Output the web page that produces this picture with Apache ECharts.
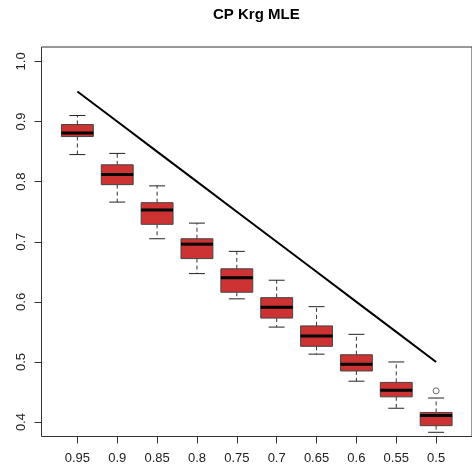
<!DOCTYPE html>
<html>
<head>
<meta charset="utf-8">
<script src="https://cdn.jsdelivr.net/npm/echarts@6/dist/echarts.min.js"></script>
<style>
  html, body { margin: 0; padding: 0; background: #fff; }
  #chart { width: 472px; height: 469px; }
</style>
</head>
<body>
<div id="chart"></div>
<script>
// Nominal coverage levels along the x axis
const categories = ['0.95', '0.9', '0.85', '0.8', '0.75', '0.7', '0.65', '0.6', '0.55', '0.5'];
const nominal = [0.95, 0.9, 0.85, 0.8, 0.75, 0.7, 0.65, 0.6, 0.55, 0.5];

// Five-number summaries of the observed coverage for each level
const lowerWhisker = [0.845, 0.766, 0.705, 0.647, 0.605, 0.558, 0.513, 0.468, 0.423, 0.383];
const q1           = [0.875, 0.795, 0.729, 0.672, 0.616, 0.573, 0.526, 0.485, 0.442, 0.394];
const medians      = [0.881, 0.812, 0.753, 0.696, 0.640, 0.591, 0.543, 0.496, 0.453, 0.411];
const q3           = [0.895, 0.828, 0.765, 0.705, 0.655, 0.607, 0.560, 0.512, 0.466, 0.416];
const upperWhisker = [0.910, 0.847, 0.793, 0.731, 0.684, 0.636, 0.592, 0.546, 0.500, 0.440];

// Points beyond the whiskers: [position, value]
const outliers = [[10, 0.452]];

// Y axis ticks
const yTicks = [0.4, 0.5, 0.6, 0.7, 0.8, 0.9, 1.0];

const positions = categories.map((_, i) => i + 1);
const boxData = positions.map((p, i) => [p, lowerWhisker[i], q1[i], medians[i], q3[i], upperWhisker[i]]);
const diagonal = positions.map((p, i) => [p, nominal[i]]);

const chart = echarts.init(document.getElementById('chart'), null, { renderer: 'canvas' });

const FONT = 'Liberation Sans, Arial, sans-serif';

function renderBox(params, api) {
  const x = api.value(0);
  const lo = api.coord([x, api.value(1)]);
  const b1 = api.coord([x, api.value(2)]);
  const md = api.coord([x, api.value(3)]);
  const b3 = api.coord([x, api.value(4)]);
  const hi = api.coord([x, api.value(5)]);
  const w = api.size([0.8, 0])[0];
  const cx = lo[0];
  const half = w / 2;
  const cap = w / 4;
  const dash = { stroke: '#333', lineWidth: 1, lineDash: [4, 3] };
  const solid = { stroke: '#222', lineWidth: 1 };
  return {
    type: 'group',
    children: [
      { type: 'line', shape: { x1: cx, y1: b3[1], x2: cx, y2: hi[1] }, style: dash },
      { type: 'line', shape: { x1: cx, y1: b1[1], x2: cx, y2: lo[1] }, style: dash },
      { type: 'line', shape: { x1: cx - cap, y1: hi[1], x2: cx + cap, y2: hi[1] }, style: solid },
      { type: 'line', shape: { x1: cx - cap, y1: lo[1], x2: cx + cap, y2: lo[1] }, style: solid },
      { type: 'rect', shape: { x: cx - half, y: b3[1], width: w, height: b1[1] - b3[1] },
        style: { fill: '#CD3333', stroke: '#444', lineWidth: 1 } },
      { type: 'line', shape: { x1: cx - half, y1: md[1], x2: cx + half, y2: md[1] },
        style: { stroke: '#000', lineWidth: 3 } }
    ]
  };
}

chart.setOption({
  animation: false,
  backgroundColor: '#fff',
  graphic: [{
    type: 'text',
    left: 213, top: 7,
    style: { text: 'CP Krg MLE', font: 'bold 15px ' + FONT, fill: '#000' }
  }],
  grid: {
    left: 41.5, top: 47, width: 434.5, height: 389.5,
    show: true, borderColor: '#333', borderWidth: 1, backgroundColor: 'transparent'
  },
  xAxis: {
    type: 'value', min: 0.1, max: 10.9,
    axisLine: { show: false },
    splitLine: { show: false },
    axisTick: { show: true, customValues: positions, length: 7, lineStyle: { color: '#333' } },
    axisLabel: {
      customValues: positions, margin: 15, color: '#222', fontSize: 13, fontFamily: FONT,
      formatter: v => categories[Math.round(v) - 1]
    }
  },
  yAxis: {
    type: 'value', min: 0.376, max: 1.024,
    axisLine: { show: false },
    splitLine: { show: false },
    axisTick: { show: true, customValues: yTicks, length: 7, lineStyle: { color: '#333' } },
    axisLabel: {
      customValues: yTicks, rotate: 90, margin: 14, color: '#222', fontSize: 13, fontFamily: FONT,
      formatter: v => v.toFixed(1)
    }
  },
  series: [
    {
      type: 'custom',
      renderItem: renderBox,
      encode: { x: 0, y: [1, 2, 3, 4, 5] },
      data: boxData,
      z: 3
    },
    {
      type: 'scatter',
      data: outliers,
      symbol: 'circle',
      symbolSize: 6,
      itemStyle: { color: '#fff', borderColor: '#444', borderWidth: 1 },
      z: 4
    },
    {
      type: 'line',
      data: diagonal,
      showSymbol: false,
      symbol: 'none',
      lineStyle: { color: '#000', width: 2 },
      z: 2
    }
  ]
});
</script>
</body>
</html>
